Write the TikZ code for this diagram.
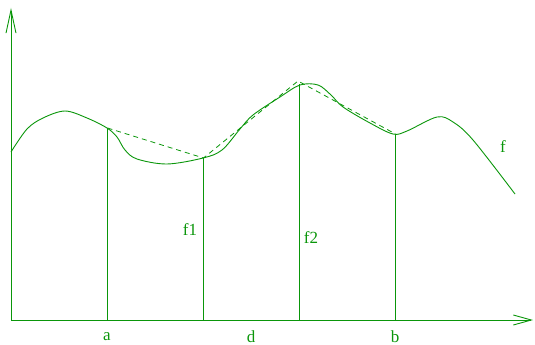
\documentclass[tikz,border=0pt]{standalone}
\usepackage{fontspec}
\setmainfont{Liberation Serif}
\usetikzlibrary{arrows.meta}
\definecolor{figgreen}{RGB}{10,150,10}
\begin{document}
\begin{tikzpicture}[x=1pt,y=-1pt,
  fline/.style={draw=figgreen,color=figgreen,line width=0.9pt},
  vline/.style={draw=figgreen,line width=1pt},
  axisx/.style={fline,-{Straight Barb[length=18pt,width=10pt,line width=0.9pt]}},
  axisy/.style={fline,-{Straight Barb[length=23pt,width=10pt,line width=0.9pt]}},
  dashline/.style={draw=figgreen,line width=0.8pt,dash pattern=on 5pt off 4pt},
  lbl/.style={text=figgreen,font=\fontsize{17}{20}\selectfont,inner sep=0pt}]
\useasboundingbox (0,0) rectangle (535,345);
% axes
\coordinate (O) at (11,320);
\coordinate (ytip) at (11,8);
\coordinate (xtip) at (533,320);
\draw[axisy] (O) -- (ytip);
\draw[axisx] (O) -- (xtip);
% points on curve
\coordinate (pa) at (107.5,128);
\coordinate (p1) at (203.5,158);
\coordinate (p2) at (299.5,84);
\coordinate (pb) at (395.5,134);
\coordinate (qa) at (107.5,320);
\coordinate (q1) at (203.5,320);
\coordinate (q2) at (299.5,320);
\coordinate (qb) at (395.5,320);
\coordinate (d2) at (298,81);
% curve f
\draw[fline] plot[smooth,tension=0.55] coordinates {
 (11,152) (27,129) (43,118) (65,111) (87,118) (107,128) (117,137) (125,150)
 (137,159) (167,164) (203,158) (222,150) (240,129) (253,115) (280,97)
 (300,85) (318,85) (331,95) (343,107) (370,123) (393,134) (407,131)
 (437,117) (453,122) (473,140) (515,194)};
% verticals
\draw[vline] (qa) -- (pa);
\draw[vline] (q1) -- (p1);
\draw[vline] (q2) -- (p2);
\draw[vline] (qb) -- (pb);
% dashed chords
\draw[dashline] (pa) -- (p1) -- (d2) -- (pb);
% labels
\node[lbl] (la) at (107,337) {a};
\node[lbl] (ld) at (251,337) {d};
\node[lbl] (lb) at (395,337) {b};
\node[lbl] (lf) at (503,147) {f};
\node[lbl] (lf1) at (190,230) {f1};
\node[lbl] (lf2) at (311,238) {f2};
\end{tikzpicture}
\end{document}
